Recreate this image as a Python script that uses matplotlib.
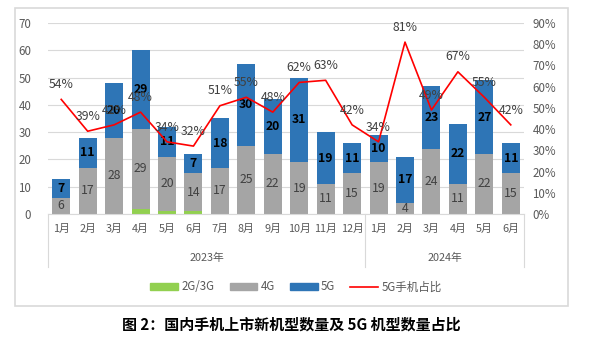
import numpy as np
import matplotlib
matplotlib.use("Agg")
import matplotlib.pyplot as plt
from matplotlib.patches import Patch, Rectangle
from matplotlib.lines import Line2D
import matplotlib.transforms as mtrans

plt.rcParams["font.family"] = ["Noto Sans CJK SC", "DejaVu Sans"]

MONTHS = ["1月", "2月", "3月", "4月", "5月", "6月", "7月", "8月", "9月", "10月", "11月", "12月",
          "1月", "2月", "3月", "4月", "5月", "6月"]
YEARS = ["2023年", "2024年"]
G23 = [0, 0, 0, 2, 1, 1, 0, 0, 0, 0, 0, 0, 0, 0, 0, 0, 0, 0]
G4 = [6, 17, 28, 29, 20, 14, 17, 25, 22, 19, 11, 15, 19, 4, 24, 11, 22, 15]
G5 = [7, 11, 20, 29, 11, 7, 18, 30, 20, 31, 19, 11, 10, 17, 23, 22, 27, 11]
SHARE = [54, 39, 42, 48, 34, 32, 51, 55, 48, 62, 63, 42, 34, 81, 49, 67, 55, 42]

C_GREEN = "#92D050"
C_GRAY = "#A5A5A5"
C_BLUE = "#2E75B6"
C_RED = "#FF0000"
C_TXT = "#595959"

W, H = 604, 355
fig = plt.figure(figsize=(W / 100, H / 100), dpi=100)

# outer chart frame
fig.patches.append(Rectangle((15 / W, 1 - 306 / H), 553 / W, 298 / H, transform=fig.transFigure,
                             fill=False, edgecolor="#D9D9D9", linewidth=1.2))

ax = fig.add_axes([48 / W, 1 - 214 / H, 476 / W, 191 / H])
x = np.arange(len(MONTHS))
g23 = np.array(G23)
g4 = np.array(G4)
g5 = np.array(G5)
bw = 0.68
ax.bar(x, g23, bw, color=C_GREEN, zorder=2)
ax.bar(x, g4, bw, bottom=g23, color=C_GRAY, zorder=2)
ax.bar(x, g5, bw, bottom=g23 + g4, color=C_BLUE, zorder=2)

for i in range(len(x)):
    ax.text(x[i], g23[i] + g4[i] / 2, str(G4[i]), ha="center", va="center",
            fontsize=8.8, color="#404040", zorder=4)
    ax.text(x[i], g23[i] + g4[i] + g5[i] / 2, str(G5[i]), ha="center", va="center",
            fontsize=8.8, fontweight="bold", color="black", zorder=4)

ax.set_xlim(-0.5, len(x) - 0.5)
ax.set_ylim(0, 70)
ax.set_yticks(range(0, 71, 10))
ax.yaxis.grid(True, color="#D9D9D9", linewidth=0.8, zorder=0)
ax.set_axisbelow(True)
for s in ["top", "right", "left"]:
    ax.spines[s].set_visible(False)
ax.spines["bottom"].set_color("#D9D9D9")
ax.set_xticks(x)
ax.set_xticklabels(MONTHS)
ax.tick_params(axis="both", length=0, labelsize=8.3, colors=C_TXT)
ax.tick_params(axis="x", pad=7, labelsize=7.8)
ax.tick_params(axis="y", pad=12)

# group separators and year labels
tr = mtrans.blended_transform_factory(ax.transData, ax.transAxes)
for xs in [-0.5, 11.5, 17.5]:
    ax.add_line(Line2D([xs, xs], [0, -53 / 191], transform=tr, color="#D9D9D9",
                       linewidth=0.8, clip_on=False))
ax.text(5.5, -44 / 191, YEARS[0], transform=tr, ha="center", va="center", fontsize=7.8, color=C_TXT)
ax.text(14.5, -44 / 191, YEARS[1], transform=tr, ha="center", va="center", fontsize=7.8, color=C_TXT)

ax2 = ax.twinx()
share = np.array(SHARE) / 100
ax2.plot(x, share, color=C_RED, linewidth=1.2, zorder=5)
ax2.set_ylim(0, 0.9)
ax2.set_yticks(np.arange(0, 0.91, 0.1))
ax2.set_yticklabels([f"{v}%" for v in range(0, 91, 10)])
ax2.tick_params(axis="y", length=0, labelsize=8.3, colors=C_TXT, pad=6)
for s in ax2.spines.values():
    s.set_visible(False)
for i in range(len(x)):
    ax2.annotate(f"{SHARE[i]}%", (x[i], share[i]), xytext=(0, 6), textcoords="offset points",
                 ha="center", va="bottom", fontsize=8.8, color="#404040", zorder=6)

handles = [Patch(color=C_GREEN, label="2G/3G"), Patch(color=C_GRAY, label="4G"),
           Patch(color=C_BLUE, label="5G"), Line2D([], [], color=C_RED, linewidth=1.2, label="5G手机占比")]
leg = fig.legend(handles=handles, loc="center", bbox_to_anchor=(296 / W, 1 - 287 / H), ncol=4,
                 frameon=False, fontsize=8.3, handlelength=2.4, handleheight=0.6,
                 columnspacing=1.3, handletextpad=0.3)
for t in leg.get_texts():
    t.set_color(C_TXT)

fig.text(291 / W, 1 - 325 / H, "图 2：国内手机上市新机型数量及 5G 机型数量占比", ha="center", va="center",
         fontsize=10.8, fontweight="heavy", color="black")

fig.savefig("out.png", dpi=100)
